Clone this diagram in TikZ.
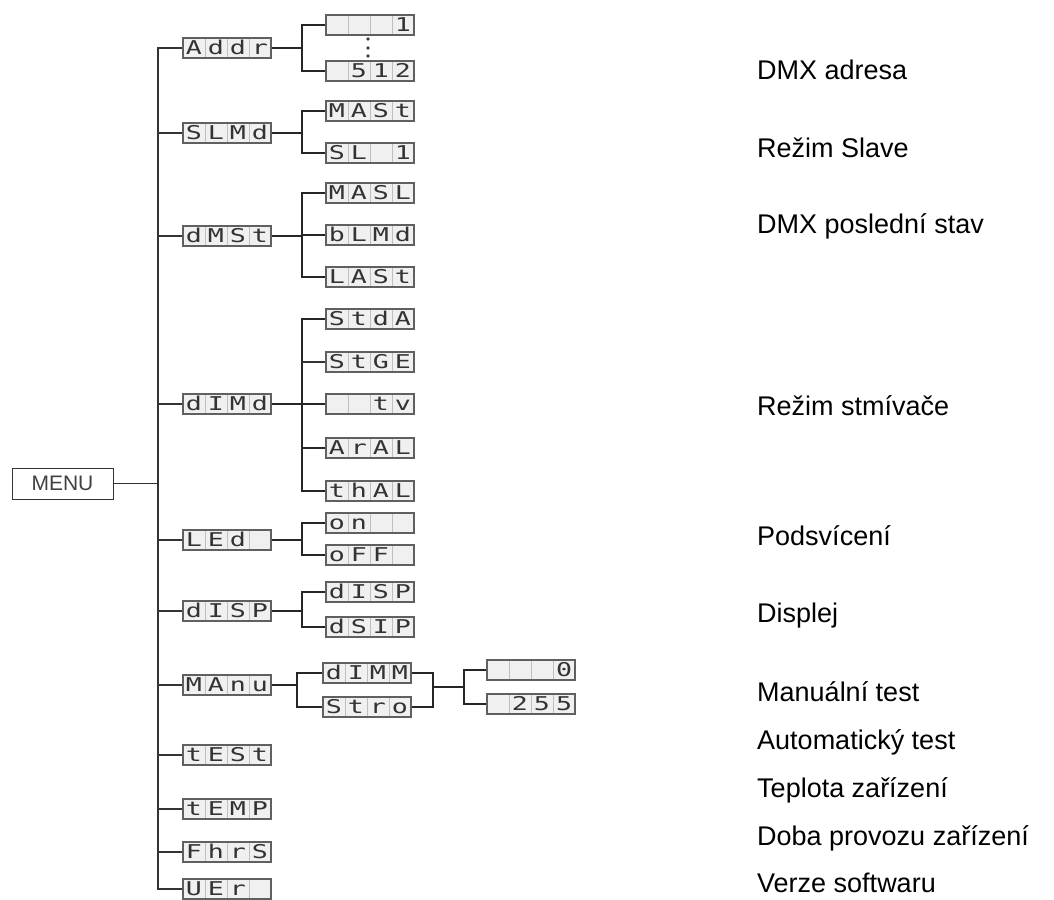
\documentclass[tikz,border=0pt]{standalone}
\usepackage{fontspec}
\setmainfont{Liberation Sans}
\newfontfamily\segfont{DejaVu Sans Mono}
\newcommand\segcell[1]{\makebox[22pt]{\scalebox{1.4}[1]{#1}}}
\newcommand\segtext[4]{\segcell{#1}\segcell{#2}\segcell{#3}\segcell{#4}}
\tikzset{
  disp/.style={draw=gray!75!black, fill=gray!12, line width=1.1pt,
    minimum width=88pt, minimum height=20pt, inner sep=0pt,
    text height=13.5pt, text depth=0pt, text=black!80,
    font=\segfont\fontsize{19}{19}\selectfont,
    path picture={\foreach \k in {22,44,66}{\draw[gray!50, line width=0.6pt]
      ([xshift=\k pt]path picture bounding box.north west) --
      ([xshift=\k pt]path picture bounding box.south west);}}},
  menubox/.style={draw=black!80, line width=1pt, minimum width=101pt,
    minimum height=31pt, inner sep=0pt, text=black!75,
    font=\fontsize{21}{21}\selectfont},
  lab/.style={anchor=base west, inner sep=0pt, text=black,
    font=\fontsize{27}{30}\selectfont},
  mainline/.style={draw=black!80, line width=1.3pt},
  subline/.style={draw=black!85, line width=2.2pt},
  thinline/.style={draw=black!80, line width=1.2pt},
}
\begin{document}
\begin{tikzpicture}[x=1pt,y=-1pt]
\useasboundingbox (0,0) rectangle (1054,899);
% bus coordinates
\coordinate (j1) at (158,0);
\coordinate (j2) at (302,0);
\coordinate (jm) at (297,0);
\coordinate (j4) at (433,0);
\coordinate (j5) at (464,0);

\node[menubox] (menu) at (62.5,483.5) {MENU};

% level 1
\node[disp] (addr) at (227,48)  {\segtext{A}{d}{d}{r}};
\node[disp] (slmd) at (227,133) {\segtext{S}{L}{M}{d}};
\node[disp] (dmst) at (227,236) {\segtext{d}{M}{S}{t}};
\node[disp] (dimd) at (227,404) {\segtext{d}{I}{M}{d}};
\node[disp] (led)  at (227,540) {\segtext{L}{E}{d}{}};
\node[disp] (disp) at (227,611) {\segtext{d}{I}{S}{P}};
\node[disp] (manu) at (227,685) {\segtext{M}{A}{n}{u}};
\node[disp] (test) at (227,755) {\segtext{t}{E}{S}{t}};
\node[disp] (temp) at (227,809) {\segtext{t}{E}{M}{P}};
\node[disp] (fhrs) at (227,852) {\segtext{F}{h}{r}{S}};
\node[disp] (uer)  at (227,889) {\segtext{U}{E}{r}{}};

% level 2
\node[disp] (a1)  at (370,25)  {\segtext{}{}{}{1}};
\node[disp] (a2)  at (370,71)  {\segtext{}{5}{1}{2}};
\node[disp] (s1)  at (370,111) {\segtext{M}{A}{S}{t}};
\node[disp] (s2)  at (370,153) {\segtext{S}{L}{}{1}};
\node[disp] (m1)  at (370,193) {\segtext{M}{A}{S}{L}};
\node[disp] (m2)  at (370,235) {\segtext{b}{L}{M}{d}};
\node[disp] (m3)  at (370,277) {\segtext{L}{A}{S}{t}};
\node[disp] (d1)  at (370,319) {\segtext{S}{t}{d}{A}};
\node[disp] (d2)  at (370,362) {\segtext{S}{t}{G}{E}};
\node[disp] (d3)  at (370,404) {\segtext{}{}{t}{v}};
\node[disp] (d4)  at (370,448) {\segtext{A}{r}{A}{L}};
\node[disp] (d5)  at (370,491) {\segtext{t}{h}{A}{L}};
\node[disp] (l1)  at (370,523) {\segtext{o}{n}{}{}};
\node[disp] (l2)  at (370,555) {\segtext{o}{F}{F}{}};
\node[disp] (p1)  at (370,592) {\segtext{d}{I}{S}{P}};
\node[disp] (p2)  at (370,627) {\segtext{d}{S}{I}{P}};
\node[disp] (n1)  at (367,673) {\segtext{d}{I}{M}{M}};
\node[disp] (n2)  at (367,707) {\segtext{S}{t}{r}{o}};
% level 3
\node[disp] (v1)  at (531,670) {\segtext{}{}{}{0}};
\node[disp] (v2)  at (531,704) {\segtext{}{2}{5}{5}};

% dots between address values
\fill[black!75] (368,39) circle (1.8) (368,48) circle (1.8) (368,56) circle (1.8);

% main bus
\draw[mainline] (addr.west) -| (j1 |- uer.west) -- (uer.west);
\foreach \n in {slmd,dmst,dimd,led,disp,manu,test,temp,fhrs}
  \draw[mainline] (\n.west) -- (\n.west -| j1);
\draw[mainline] (menu.east) -- (menu.east -| j1);

% sub trees
\draw[subline] (addr.east) -- (addr.east -| j2);
\draw[subline] (a1.west) -| (j2 |- a2.west) -- (a2.west);
\draw[subline] (slmd.east) -- (slmd.east -| j2);
\draw[subline] (s1.west) -| (j2 |- s2.west) -- (s2.west);
\draw[subline] (dmst.east) -- (dmst.east -| j2);
\draw[subline] (m1.west) -| (j2 |- m3.west) -- (m3.west);
\draw[subline] (m2.west) -- (m2.west -| j2);
\draw[subline] (dimd.east) -- (dimd.east -| j2);
\draw[subline] (d1.west) -| (j2 |- d5.west) -- (d5.west);
\draw[thinline] (d2.west) -- (d2.west -| j2);
\draw[subline] (d3.west) -- (d3.west -| j2);
\draw[subline] (d4.west) -- (d4.west -| j2);
\draw[subline] (led.east) -- (led.east -| j2);
\draw[subline] (l1.west) -| (j2 |- l2.west) -- (l2.west);
\draw[subline] (disp.east) -- (disp.east -| j2);
\draw[subline] (p1.west) -| (j2 |- p2.west) -- (p2.west);
\draw[subline] (manu.east) -- (manu.east -| jm);
\draw[subline] (n1.west) -| (jm |- n2.west) -- (n2.west);
\draw[subline] (n1.east) -| (j4 |- n2.east) -- (n2.east);
\coordinate (mid4) at (433,687);
\draw[subline] (mid4) -- (mid4 -| j5);
\draw[subline] (v1.west) -| (j5 |- v2.west) -- (v2.west);

% labels
\node[lab] (t1)  at (757,79)  {DMX adresa};
\node[lab] (t2)  at (757,157) {Režim Slave};
\node[lab] (t3)  at (757,233) {DMX poslední stav};
\node[lab] (t4)  at (757,415) {Režim stmívače};
\node[lab] (t5)  at (757,545) {Podsvícení};
\node[lab] (t6)  at (757,622) {Displej};
\node[lab] (t7)  at (757,701) {Manuální test};
\node[lab] (t8)  at (757,749) {Automatický test};
\node[lab] (t9)  at (757,797) {Teplota zařízení};
\node[lab] (t10) at (757,845) {Doba provozu zařízení};
\node[lab] (t11) at (757,892) {Verze softwaru};
\end{tikzpicture}
\end{document}
